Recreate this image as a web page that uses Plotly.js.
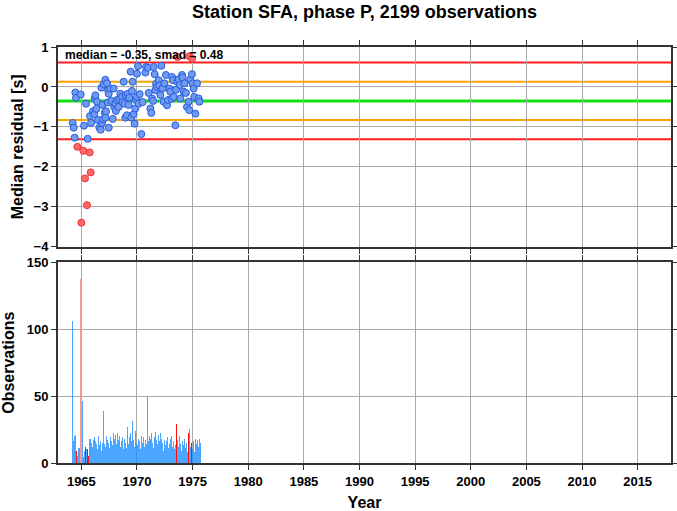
<!DOCTYPE html>
<html><head><meta charset="utf-8">
<script src="https://cdn.plot.ly/plotly-3.0.1.min.js"></script>
<style>html,body{margin:0;padding:0;background:#fff;} #chart{width:677px;height:511px;}</style>
</head><body><div id="chart"></div>
<script>
const chartTitle = 'Station SFA, phase P, 2199 observations';
const medianRes = -0.35;
const smadRes = 0.48;
const statsLabel = 'median = -0.35, smad = 0.48';

// median residual per bin: year, value [s]
const resYear = [
 1964.22,1964.31,1964.40,1964.46,1964.52,1964.64,1964.94,1965.00,1965.18,1965.24,
 1965.33,1965.42,1965.51,1965.57,1965.75,1965.78,1965.84,1965.87,1966.05,1966.17,
 1966.20,1966.26,1966.35,1966.41,1966.50,1966.62,1966.74,1966.80,1966.86,1966.90,
 1966.95,1967.00,1967.10,1967.16,1967.16,1967.22,1967.31,1967.37,1967.40,1967.46,
 1967.46,1967.61,1967.70,1967.82,1967.90,1967.95,1968.05,1968.10,1968.20,1968.35,
 1968.40,1968.50,1968.65,1968.70,1968.80,1968.89,1968.95,1969.00,1969.10,1969.19,
 1969.25,1969.31,1969.43,1969.49,1969.55,1969.61,1969.70,1969.79,1969.85,1969.91,
 1970.00,1970.00,1970.09,1970.15,1970.24,1970.39,1970.51,1970.75,1970.81,1970.99,
 1971.05,1971.20,1971.29,1971.35,1971.45,1971.50,1971.59,1971.65,1971.71,1971.80,
 1971.95,1972.00,1972.10,1972.19,1972.30,1972.40,1972.46,1972.60,1972.70,1972.79,
 1972.90,1973.00,1973.10,1973.15,1973.24,1973.30,1973.45,1973.51,1973.63,1973.65,
 1973.75,1973.85,1973.90,1974.05,1974.10,1974.20,1974.28,1974.40,1974.49,1974.64,
 1974.70,1974.70,1974.79,1974.94,1974.95,1975.00,1975.09,1975.15,1975.25,1975.40,
 1975.55,1975.61
];
const resValue = [
 -0.90,-1.02,-1.27,-0.14,-0.27,-1.50,-0.19,-3.40,-1.60,-0.97,
 -2.29,-0.42,-2.96,-1.30,-1.64,-0.73,-2.14,-0.90,-0.61,-0.68,
 -0.29,-0.21,-0.55,-0.37,-0.83,-1.02,-1.07,-0.02,-0.90,-0.45,
 -0.81, 0.07,-0.65, 0.18,-0.77,-0.61, 0.09,-0.39,-0.08,-0.17,
 -1.02,-0.04,-0.35,-0.80,-0.04,-0.50,-0.42,-0.60,-0.33,-0.50,
 -0.30,-0.17,-0.25,-0.38, 0.13,-0.42,-0.77,-0.20,-0.71,-0.17,
 -0.45,-0.27, 0.38,-0.77,-0.10, 0.13,-0.68,-0.92,-0.54,-0.33,
 -0.25, 0.33, 0.52,-0.42,-0.18,-1.18,-0.38, 0.36, 0.50, 0.48,
 -0.15,-0.54,-0.65,-0.29,-0.35, 0.50, 0.32,-0.08, 0.08, 0.00,
  0.17, 0.04,-0.20, 0.53,-0.04,-0.37, 0.09, 0.30,-0.46,-0.33,
 -0.04,-0.12,-0.30, 0.25, 0.17,-0.25,-0.96,-0.07, 0.13, 0.75,
  0.19, 0.05,-0.29, 0.30, 0.24,-0.12, 0.09,-0.15,-0.50,-0.37,
  0.77,-0.58, 0.19, 0.32, 0.71, 0.09,-0.04,-0.25,-0.67, 0.09,
 -0.29,-0.37
];

// observations per month, starting March 1964
const obsStartYear = 1964.125;
const obsCount = [
 106,86,16,20,21,9,5,11,11,8,137,46,4,9,12,13,10,10,5,18,
 18,15,12,17,19,16,14,10,20,18,13,16,9,15,
 39,
 14,12,20,17,15,11,19,21,16,13,
 22,18,21,14,22,17,20,
 12,16,19,10,14,18,15,11,
 27,
 14,19,22,16,
 31,
 17,12,24,15,
 27,
 13,18,16,10,20,15,19,12,17,14,
 49,
 16,20,13,18,22,15,11,19,23,17,14,21,16,22,
 18,12,15,9,17,13,16,19,11,14,18,20,12,16,10,15,13,
 29,
 17,12,20,14,9,16,13,18,11,15,8,21,
 22,
 25,12,
 15,
 10,16,8,18,14,17,12,18,15
];
// 0 = normal bin, 1 = outlier bin, 2 = outlier bin (light)
const obsFlag = obsCount.map(() => 0);
const obsOutlierIdx = [5,9,14,15,17,18,113,126,129];
const obsLightIdx = [10];

const yearTicks = [1965,1970,1975,1980,1985,1990,1995,2000,2005,2010,2015];
const xRange = [1962.9, 2018.0];

obsOutlierIdx.forEach(i => obsFlag[i] = 1);
obsLightIdx.forEach(i => obsFlag[i] = 2);
const obsYear = obsCount.map((_, i) => obsStartYear + (i + 0.5) / 12);
const flagColor = ['rgba(30,144,255,0.8)', 'rgba(255,0,0,0.95)', 'rgb(255,150,150)'];

const inY = [], inV = [], outY = [], outV = [];
resYear.forEach((y, i) => {
  const v = resValue[i];
  if (Math.abs(v - medianRes) > 2 * smadRes) { outY.push(y); outV.push(v); }
  else { inY.push(y); inV.push(v); }
});

const FONT = 'Liberation Sans, Arial, Helvetica, sans-serif';
const frame = {
  showline: true, linecolor: '#333', linewidth: 2, mirror: 'ticks',
  ticks: 'outside', ticklen: 5, tickwidth: 1, tickcolor: '#333',
  showgrid: true, gridcolor: '#aaaaaa', gridwidth: 1, zeroline: false,
  tickfont: {family: FONT, size: 13, color: '#000', weight: 'bold'}
};

const traces = [
  {x: inY, y: inV, xaxis: 'x', yaxis: 'y', type: 'scatter', mode: 'markers',
   marker: {size: 7, color: 'rgb(110,155,240)', line: {color: 'rgb(40,90,225)', width: 1}},
   hoverinfo: 'x+y', showlegend: false},
  {x: outY, y: outV, xaxis: 'x', yaxis: 'y', type: 'scatter', mode: 'markers',
   marker: {size: 7, color: 'rgb(255,105,105)', line: {color: 'rgb(235,50,50)', width: 1}},
   hoverinfo: 'x+y', showlegend: false},
  {x: obsYear, y: obsCount, xaxis: 'x2', yaxis: 'y2', type: 'bar', width: 1/12,
   marker: {color: obsFlag.map(f => flagColor[f]), line: {width: 0}},
   hoverinfo: 'x+y', showlegend: false}
];

const lineLevels = [
  {v: medianRes + 2*smadRes, c: 'rgb(255,30,30)', w: 2},
  {v: medianRes - 2*smadRes, c: 'rgb(255,30,30)', w: 2},
  {v: medianRes + smadRes, c: 'rgb(255,165,0)', w: 2},
  {v: medianRes - smadRes, c: 'rgb(255,165,0)', w: 2},
  {v: medianRes, c: 'rgb(20,225,20)', w: 3}
];

const layout = {
  width: 677, height: 511,
  margin: {l: 58, r: 6, t: 47, b: 48},
  paper_bgcolor: '#fff', plot_bgcolor: '#fff',
  bargap: 0,
  font: {family: FONT, color: '#000'},
  title: {text: chartTitle, font: {family: FONT, size: 18, weight: 'bold', color: '#000'},
          xref: 'paper', x: 0.5, xanchor: 'center', yref: 'container', y: 0.978, yanchor: 'middle'},
  xaxis: Object.assign({}, frame, {domain: [0,1], anchor: 'y', range: xRange,
          tickmode: 'array', tickvals: yearTicks, showticklabels: false}),
  yaxis: Object.assign({}, frame, {domain: [0.52, 1], anchor: 'x', range: [-4, 1],
          tickmode: 'linear', dtick: 1,
          title: {text: 'Median residual [s]', standoff: 6, font: {family: FONT, size: 16, weight: 'bold'}}}),
  xaxis2: Object.assign({}, frame, {domain: [0,1], anchor: 'y2', range: xRange,
          tickmode: 'array', tickvals: yearTicks,
          title: {text: 'Year', font: {family: FONT, size: 16, weight: 'bold'}}}),
  yaxis2: Object.assign({}, frame, {domain: [0, 0.4825], anchor: 'x2', range: [0, 150],
          tickmode: 'linear', dtick: 50,
          title: {text: 'Observations', standoff: 10, font: {family: FONT, size: 16, weight: 'bold'}}}),
  shapes: lineLevels.map(l => ({type: 'line', xref: 'x domain', yref: 'y', x0: 0, x1: 1,
          y0: l.v, y1: l.v, line: {color: l.c, width: l.w}, layer: 'below'})),
  annotations: [{text: statsLabel, xref: 'paper', yref: 'paper', x: 0, y: 1,
          xanchor: 'left', yanchor: 'top', xshift: 5, yshift: 1, showarrow: false,
          font: {family: FONT, size: 12, weight: 'bold', color: '#000'}}]
};

Plotly.newPlot('chart', traces, layout, {displayModeBar: false});
</script>
</body></html>
